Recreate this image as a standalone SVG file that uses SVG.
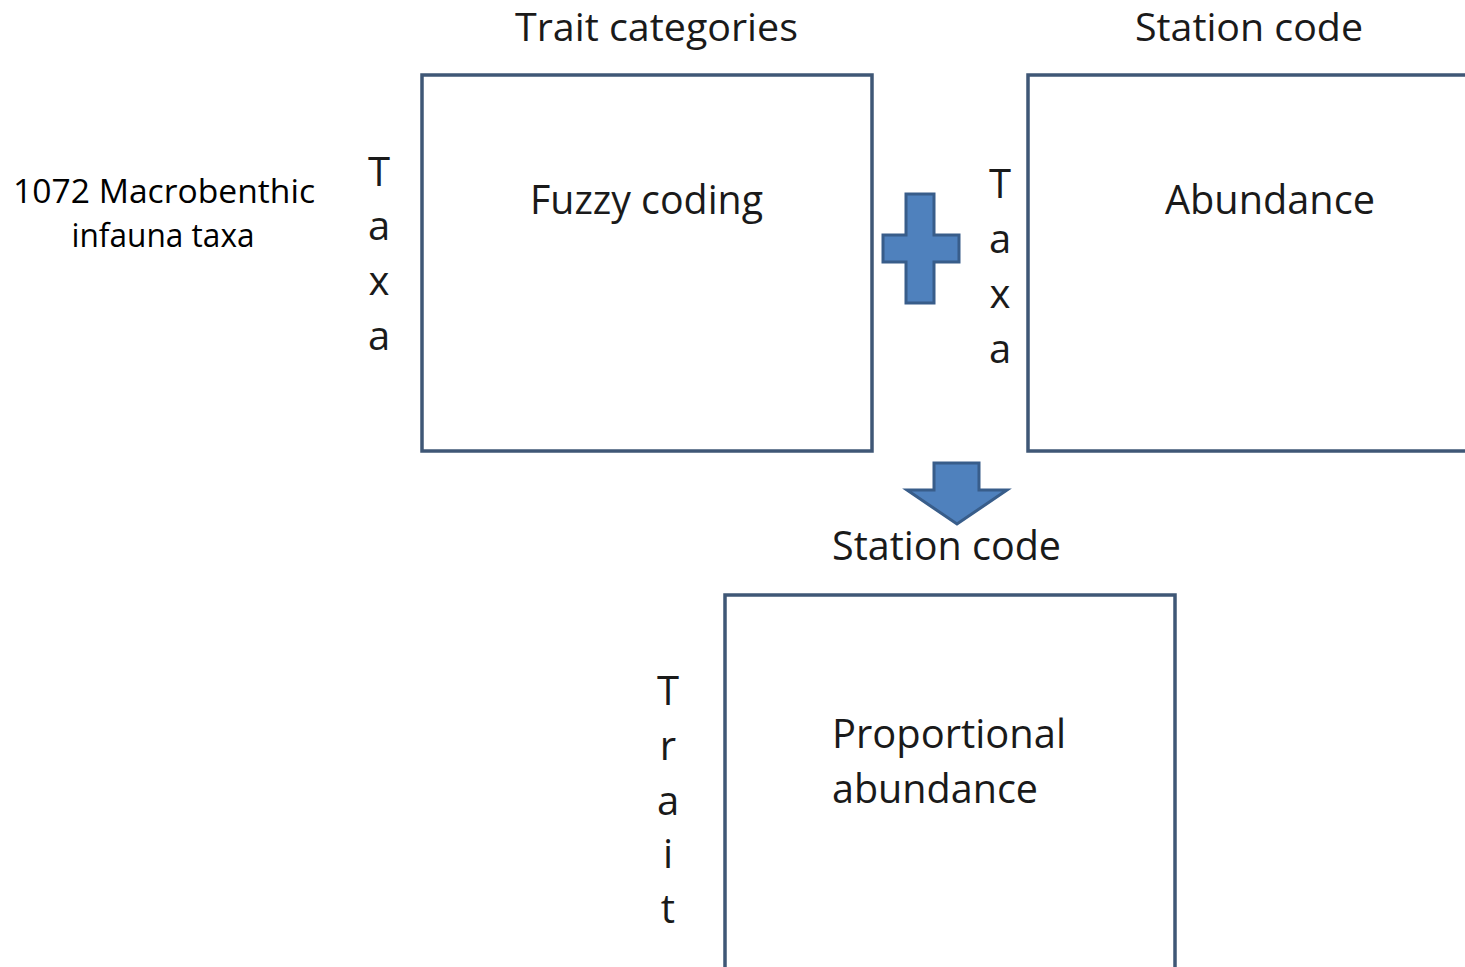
<svg xmlns="http://www.w3.org/2000/svg" width="1465" height="967" viewBox="0 0 1465 967">
<style>
.box{fill:#fff;stroke:#3f5776;stroke-width:3.5}
.t{font-family:"Open Sans","Noto Sans","Liberation Sans",sans-serif;fill:#1a1a1a}
.big{font-size:40px}
.top{font-size:38px}
.v{font-size:40px;text-anchor:middle}
.sm{font-family:"Open Sans","Noto Sans","Liberation Sans",sans-serif;font-size:32px;fill:#000;text-anchor:middle}
.shape{fill:#4f81bd;stroke:#385d8a;stroke-width:3;stroke-linejoin:miter}
</style>
<rect width="1465" height="967" fill="#fff"/>
<g id="label-left">
<text class="sm" x="164" y="203" textLength="302" lengthAdjust="spacingAndGlyphs">1072  Macrobenthic</text>
<text class="sm" x="163" y="247" textLength="183" lengthAdjust="spacingAndGlyphs">infauna taxa</text>
</g>
<g id="fuzzy">
<text class="t top" x="515" y="41" textLength="283" lengthAdjust="spacingAndGlyphs">Trait categories</text>
<rect class="box" x="422" y="75" width="450" height="376"/>
<text class="t big" x="530" y="214" textLength="233" lengthAdjust="spacingAndGlyphs">Fuzzy coding</text>
<g class="t v"><text x="379" y="186">T</text><text x="379" y="240">a</text><text x="379" y="295">x</text><text x="379" y="350">a</text></g>
</g>
<g id="abundance">
<text class="t top" x="1135" y="41" textLength="228" lengthAdjust="spacingAndGlyphs">Station code</text>
<rect class="box" x="1028" y="75" width="460" height="376"/>
<text class="t big" x="1165" y="214" textLength="210" lengthAdjust="spacingAndGlyphs">Abundance</text>
<g class="t v"><text x="1000" y="198">T</text><text x="1000" y="253">a</text><text x="1000" y="308">x</text><text x="1000" y="363">a</text></g>
</g>
<g id="proportional">
<text class="t big" x="832" y="560" textLength="229" lengthAdjust="spacingAndGlyphs">Station code</text>
<rect class="box" x="725" y="595" width="450" height="400"/>
<text class="t big" x="832" y="748" textLength="234" lengthAdjust="spacingAndGlyphs">Proportional</text>
<text class="t big" x="832" y="803" textLength="206" lengthAdjust="spacingAndGlyphs">abundance</text>
<g class="t v"><text x="668" y="705">T</text><text x="668" y="760">r</text><text x="668" y="815">a</text><text x="668" y="868">i</text><text x="668" y="923">t</text></g>
</g>
<g id="connectors">
<path class="shape" d="M906,194 H934 V235 H959 V262 H934 V303 H906 V262 H883 V235 H906 Z"/>
<path class="shape" d="M934,463 H979 V490 H1007 L957,524 L907,490 H934 Z"/>
</g>
</svg>
